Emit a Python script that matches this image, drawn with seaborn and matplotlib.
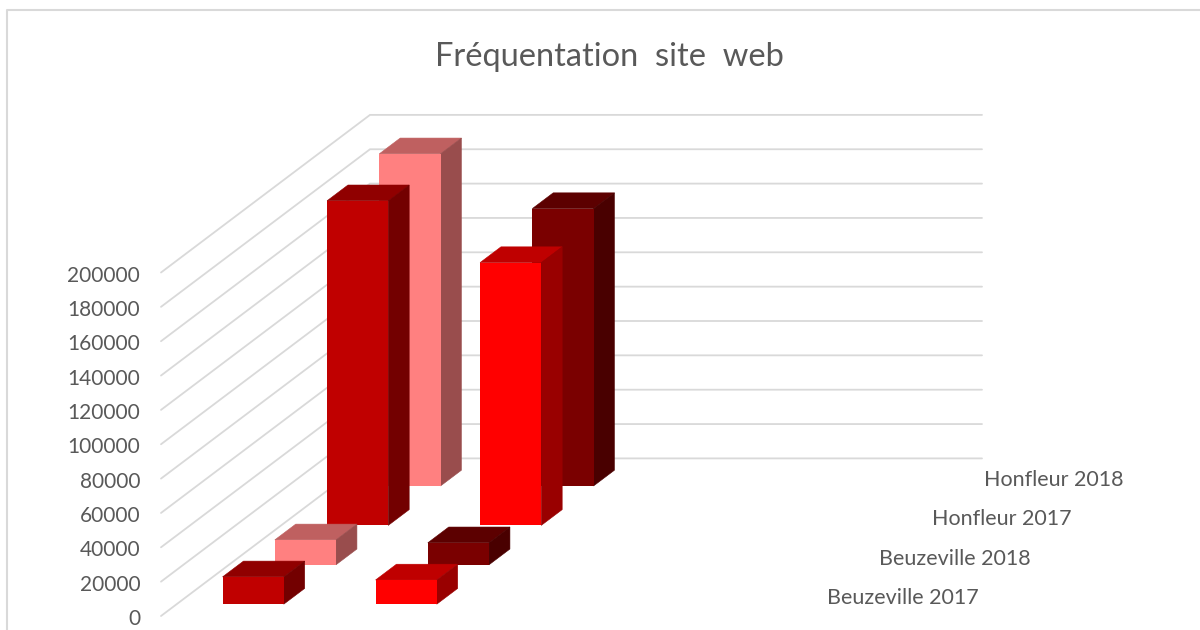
#!/usr/bin/env python3
"""Fréquentation site web: Excel-style 3D columns drawn as an oblique projection."""
import matplotlib
matplotlib.use("Agg")
import matplotlib.pyplot as plt
from matplotlib.lines import Line2D
import matplotlib.transforms as mtrans
import numpy as np
import pandas as pd
import seaborn as sns

# === Data ===
SERIES = ["Beuzeville 2017", "Beuzeville 2018", "Honfleur 2017", "Honfleur 2018"]
GROUP_1 = [15900, 14500, 189000, 193400]
GROUP_2 = [14100, 12800, 153000, 161500]
Y_TICKS = [0, 20000, 40000, 60000, 80000, 100000, 120000, 140000, 160000, 180000, 200000]
COLORS_1 = ["#c00000", "#ff8080", "#c00000", "#ff8080"]
COLORS_2 = ["#ff0000", "#7a0000", "#ff0000", "#7a0000"]

# === Layout, in pixels of the 1200x630 figure ===
W, H = 1200, 630
AX_LEFT = 145
WALL_X = 161            # front end of the gridlines
BACK_X = 370            # back wall
GRID_END = 982
ZERO_Y = 616            # pixel row of value 0 on the front edge
PX_PER_20K = 34.35
VALUE_PER_PX = 20000 / PX_PER_20K
SLOT_DX = (BACK_X - WALL_X) / 4
SLOT_DY = 39.4 * VALUE_PER_PX
CAT_W = (GRID_END - BACK_X) / 4
BAR_W = 0.4 * CAT_W
GREY = "#595959"
GRID = "#d9d9d9"

sns.set_theme(style="white")
plt.rcParams["font.family"] = ["Lato", "DejaVu Sans"]


def shade(color, factor):
    return tuple(c * factor for c in sns.desaturate(color, 1))


def draw_column(ax, group, slot, value, color, z):
    # front-left-bottom corner of the box
    d0 = slot + 0.3
    left = WALL_X + d0 * SLOT_DX + (group + 0.3) * CAT_W
    base = d0 * SLOT_DY
    dx = 0.4 * SLOT_DX
    dy = 0.4 * SLOT_DY
    right = left + BAR_W
    top = base + value

    # faces behind first, a thin same-colour edge closes the antialiasing seams
    ax.fill([left, right, right + dx, left + dx], [top, top, top + dy, top + dy],
            facecolor=shade(color, 0.75), edgecolor=shade(color, 0.75), lw=0.4, zorder=z)
    ax.fill([right, right + dx, right + dx, right], [base, base + dy, top + dy, top],
            facecolor=shade(color, 0.6), edgecolor=shade(color, 0.6), lw=0.4, zorder=z)
    df = pd.DataFrame({"x": [left + BAR_W / 2], "value": [value]})
    sns.barplot(data=df, x="x", y="value", native_scale=True, width=BAR_W, color=color,
                saturation=1, errorbar=None, bottom=base, linewidth=0, zorder=z, ax=ax)


fig = plt.figure(figsize=(W / 100, H / 100), dpi=100)
ax = fig.add_axes([AX_LEFT / W, 0, 1 - AX_LEFT / W, 1])

# gridlines: floor-to-back diagonal then along the back wall
back_dy = 4 * SLOT_DY
for v in Y_TICKS:
    ax.plot([WALL_X, BACK_X, GRID_END], [v, v + back_dy, v + back_dy],
            color=GRID, lw=1.3, zorder=0.5, solid_joinstyle="miter")

# painter's order, back row first
z = 1
for slot in reversed(range(len(SERIES))):
    draw_column(ax, 0, slot, GROUP_1[slot], COLORS_1[slot], z)
    draw_column(ax, 1, slot, GROUP_2[slot], COLORS_2[slot], z)
    z += 1

# series names sit on the depth axis
for slot, name in enumerate(SERIES):
    ax.text(827 + slot * 52.3, (ZERO_Y - 598) * VALUE_PER_PX + slot * 39.3 * VALUE_PER_PX, name,
            color=GREY, fontsize=15.5, ha="left", va="center")

ax.set_xlim(AX_LEFT, W)
ax.set_ylim((ZERO_Y - H) * VALUE_PER_PX, ZERO_Y * VALUE_PER_PX)
ax.set_xlabel("")
ax.set_ylabel("")
ax.set_xticks([])
ax.set_yticks(Y_TICKS)
ax.set_yticklabels([str(v) for v in Y_TICKS])
ax.tick_params(axis="y", length=0, pad=3.5, labelsize=15.0, labelcolor=GREY)
# nudge the tick labels down a pixel
down = mtrans.ScaledTranslation(0, -1 / 100, fig.dpi_scale_trans)
for lab in ax.get_yticklabels():
    lab.set_transform(lab.get_transform() + down)
sns.despine(ax=ax, left=True, bottom=True)

fig.text(609 / W, 1 - 57 / H, "Fréquentation  site  web", color=GREY, fontsize=23.5,
         ha="center", va="center")

# chart frame: only top and left edges are inside the crop
fig.add_artist(Line2D([7 / W, 7 / W, 1], [0, 1 - 10 / H, 1 - 10 / H], color=GRID, lw=1.5))

fig.savefig("out.png", dpi=100)
